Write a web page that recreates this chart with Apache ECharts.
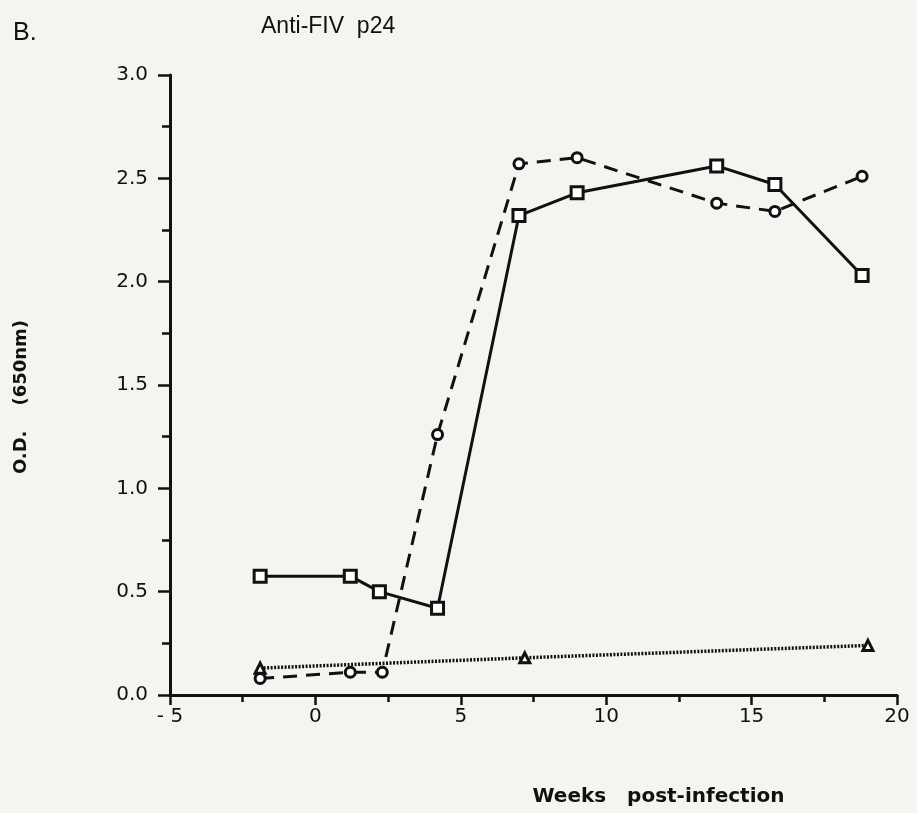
<!DOCTYPE html>
<html>
<head>
<meta charset="utf-8">
<script src="https://cdn.jsdelivr.net/npm/echarts@6/dist/echarts.min.js"></script>
<style>
  html, body { margin: 0; padding: 0; background: #f5f4f0; }
  #chart { width: 917px; height: 813px; }
</style>
</head>
<body>
<div id="chart"></div>
<script>
// weeks post-infection / O.D.
const squareWeeks = [-1.9, 1.2, 2.2, 4.2, 7.0, 9.0, 13.8, 15.8, 18.8];
const squareOD = [0.575, 0.575, 0.50, 0.42, 2.32, 2.43, 2.56, 2.47, 2.03];

const circleWeeks = [-1.9, 1.2, 2.3, 4.2, 7.0, 9.0, 13.8, 15.8, 18.8];
const circleOD = [0.08, 0.11, 0.11, 1.26, 2.57, 2.60, 2.38, 2.34, 2.51];

const triangleWeeks = [-1.9, 7.2, 19.0];
const triangleOD = [0.13, 0.18, 0.24];

const xTickLabels = {'-5': '- 5', '0': '0', '5': '5', '10': '10', '15': '15', '20': '20'};

function pairs(xs, ys) {
    return xs.map((x, i) => [x, ys[i]]);
}

const chart = echarts.init(document.getElementById('chart'));
const ink = '#111111';
const font = '"Liberation Sans", Arial, sans-serif';
const wideFont = '"DejaVu Sans", sans-serif';

const option = {
    backgroundColor: '#f5f4f0',
    animation: false,
    title: [
        { text: 'B.', left: 8, top: 16, textStyle: { fontFamily: font, fontSize: 25, fontWeight: 'normal', color: ink } },
        { text: 'Anti-FIV  p24', left: 256, top: 10, textStyle: { fontFamily: font, fontSize: 23, fontWeight: 'normal', color: ink } }
    ],
    grid: { left: 170, right: 20, top: 75, bottom: 118 },
    xAxis: {
        type: 'value',
        min: -5,
        max: 20,
        interval: 5,
        name: 'Weeks   post-infection',
        nameLocation: 'middle',
        nameGap: 92,
        nameTextStyle: { fontFamily: wideFont, fontSize: 20, fontWeight: 'bold', color: ink, padding: [0, 0, 0, 250] },
        axisLine: { onZero: false, lineStyle: { color: ink, width: 3 } },
        axisTick: { length: 10, lineStyle: { color: ink, width: 2.5 } },
        minorTick: { show: true, splitNumber: 2, length: 7, lineStyle: { color: ink, width: 2.5 } },
        axisLabel: {
            fontFamily: wideFont, fontSize: 20, color: ink, margin: 12,
            formatter: v => xTickLabels[String(v)] || String(v)
        },
        splitLine: { show: false }
    },
    yAxis: {
        type: 'value',
        min: 0,
        max: 3,
        interval: 0.5,
        name: 'O.D.    (650nm)',
        nameLocation: 'middle',
        nameGap: 140,
        nameTextStyle: { fontFamily: wideFont, fontSize: 18, fontWeight: 'bold', color: ink, padding: [0, 24, 0, 0] },
        axisLine: { show: true, onZero: false, lineStyle: { color: ink, width: 3 } },
        axisTick: { show: true, length: 12, lineStyle: { color: ink, width: 2.5 } },
        minorTick: { show: true, splitNumber: 2, length: 8, lineStyle: { color: ink, width: 2.5 } },
        axisLabel: { fontFamily: wideFont, fontSize: 20, color: ink, margin: 22, formatter: v => v.toFixed(1) },
        splitLine: { show: false }
    },
    series: [
        {
            name: 'squares',
            type: 'line',
            data: pairs(squareWeeks, squareOD),
            symbol: 'rect',
            symbolSize: 12,
            itemStyle: { color: '#ffffff', borderColor: ink, borderWidth: 3 },
            lineStyle: { color: ink, width: 3, type: 'solid' },
            z: 3
        },
        {
            name: 'circles',
            type: 'line',
            data: pairs(circleWeeks, circleOD),
            symbol: 'circle',
            symbolSize: 10,
            itemStyle: { color: '#ffffff', borderColor: ink, borderWidth: 3 },
            lineStyle: { color: ink, width: 3, type: [14, 9] },
            z: 4
        },
        {
            name: 'triangles',
            type: 'line',
            data: pairs(triangleWeeks, triangleOD),
            symbol: 'triangle',
            symbolSize: 10,
            itemStyle: { color: '#ffffff', borderColor: ink, borderWidth: 3 },
            lineStyle: { color: ink, width: 3.5, type: [2, 1.5] },
            z: 2
        }
    ]
};

chart.setOption(option);
</script>
</body>
</html>
